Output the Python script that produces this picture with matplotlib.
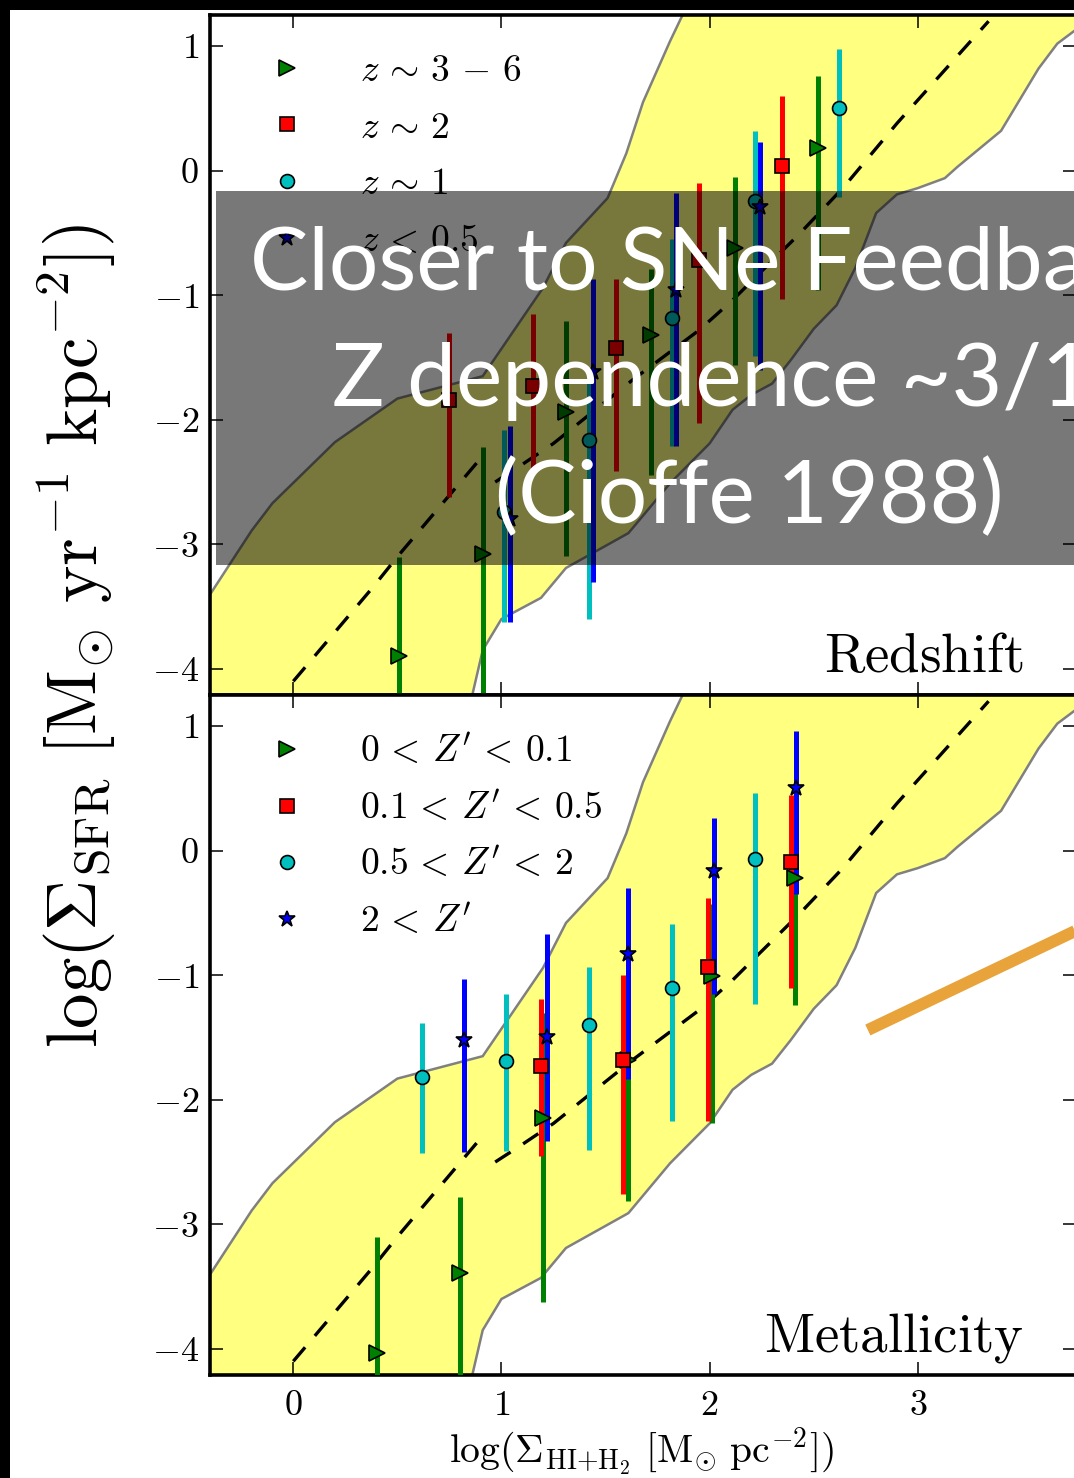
import matplotlib
matplotlib.use('Agg')
import matplotlib.pyplot as plt
from matplotlib.patches import Rectangle

plt.rcParams['mathtext.fontset'] = 'cm'
plt.rcParams['font.family'] = 'serif'
plt.rcParams['font.serif'] = ['cmr10']
plt.rcParams['axes.formatter.use_mathtext'] = True

# ---- redshift bins (top panel): x, y, upper and lower end of the bars
z36_x = [0.51, 0.91, 1.31, 1.72, 2.12, 2.52]
z36_y = [-3.90, -3.08, -1.94, -1.32, -0.62, 0.18]
z36_hi = [-3.10, -2.22, -1.21, -0.79, -0.05, 0.76]
z36_lo = [-5.00, -5.00, -3.09, -2.44, -1.56, -0.96]

z2_x = [0.75, 1.15, 1.55, 1.95, 2.35]
z2_y = [-1.84, -1.73, -1.42, -0.72, 0.04]
z2_hi = [-1.30, -1.15, -0.87, -0.10, 0.60]
z2_lo = [-2.62, -2.41, -2.41, -2.03, -1.03]

z1_x = [1.01, 1.42, 1.82, 2.22, 2.62]
z1_y = [-2.74, -2.16, -1.18, -0.24, 0.50]
z1_hi = [-2.08, -1.65, -0.55, 0.32, 0.98]
z1_lo = [-3.62, -3.60, -2.21, -1.49, -0.21]

z05_x = [1.04, 1.44, 1.84, 2.24]
z05_y = [-2.80, -1.62, -0.96, -0.29]
z05_hi = [-2.05, -0.87, -0.18, 0.23]
z05_lo = [-3.62, -3.30, -2.21, -1.60]

# ---- metallicity bins (bottom panel)
m01_x = [0.40, 0.80, 1.20, 1.61, 2.01, 2.41]
m01_y = [-4.03, -3.39, -2.15, -1.68, -1.01, -0.22]
m01_hi = [-3.10, -2.78, -1.30, -1.08, -0.43, 0.22]
m01_lo = [-5.00, -5.00, -3.62, -2.81, -2.19, -1.24]

m05_x = [1.19, 1.585, 1.99, 2.39]
m05_y = [-1.73, -1.68, -0.93, -0.09]
m05_hi = [-1.19, -1.00, -0.38, 0.45]
m05_lo = [-2.45, -2.76, -2.17, -1.10]

m2_x = [0.62, 1.02, 1.42, 1.82, 2.22]
m2_y = [-1.82, -1.69, -1.40, -1.10, -0.07]
m2_hi = [-1.38, -1.15, -0.93, -0.59, 0.46]
m2_lo = [-2.43, -2.41, -2.40, -2.17, -1.23]

mhi_x = [0.82, 1.22, 1.61, 2.02, 2.415]
mhi_y = [-1.52, -1.50, -0.83, -0.16, 0.50]
mhi_hi = [-1.03, -0.67, -0.30, 0.26, 0.96]
mhi_lo = [-2.42, -2.33, -1.83, -1.15, -0.35]

# ---- scatter band of the local sample
band_up_x = [-0.5, -0.20, -0.10, 0.20, 0.50, 0.91, 1.20, 1.31, 1.51, 1.60, 1.68, 1.81, 1.87, 1.95]
band_up_y = [-3.66, -2.89, -2.67, -2.18, -1.83, -1.65, -0.94, -0.58, -0.22, 0.14, 0.55, 1.04, 1.25, 1.60]
band_lo_x = [0.82, 0.86, 0.91, 1.00, 1.19, 1.31, 1.61, 1.81, 2.00, 2.11, 2.20, 2.30, 2.39,
             2.50, 2.61, 2.70, 2.80, 2.90, 3.00, 3.13, 3.19, 3.40, 3.58, 3.67, 3.75, 3.85, 4.0]
band_lo_y = [-4.50, -4.21, -3.85, -3.60, -3.43, -3.19, -2.91, -2.51, -2.19, -1.92, -1.80, -1.71, -1.52,
             -1.27, -1.08, -0.78, -0.34, -0.19, -0.14, -0.06, 0.03, 0.32, 0.82, 1.02, 1.12, 1.25, 1.40]

# ---- model curve (dashed), two branches
model_x1 = [0.0, 0.385, 0.50, 0.92]
model_y1 = [-4.10, -3.34, -3.10, -2.27]
model_x2 = [0.97, 1.09, 1.25, 1.63, 1.95, 2.11, 2.23, 2.43, 2.64, 2.90, 3.34]
model_y2 = [-2.50, -2.37, -2.19, -1.68, -1.28, -1.04, -0.84, -0.51, -0.14, 0.38, 1.20]

# ---- slope annotation
slope_x = [2.76, 3.90]
slope_y = [-1.44, -0.53]

W, H = 1074, 1478
fig = plt.figure(figsize=(W / 100, H / 100), dpi=100)
ax_top = fig.add_axes([210 / W, 1 - 695 / H, 866 / W, 680 / H])
ax_bot = fig.add_axes([210 / W, 1 - 1375 / H, 866 / W, 680 / H], sharex=ax_top)

band_x = band_up_x + [4.2, 4.2] + band_lo_x[::-1] + [-0.5]
band_y = band_up_y + [1.6, 1.4] + band_lo_y[::-1] + [-4.5]

top_sets = [
    (z36_x, z36_y, z36_hi, z36_lo, 'g', '>', r'$z\,\sim\,3\,-\,6$'),
    (z2_x, z2_y, z2_hi, z2_lo, 'r', 's', r'$z\,\sim\,2$'),
    (z1_x, z1_y, z1_hi, z1_lo, 'c', 'o', r'$z\,\sim\,1$'),
    (z05_x, z05_y, z05_hi, z05_lo, 'b', '*', r'$z\,<\,0.5$'),
]
bot_sets = [
    (m01_x, m01_y, m01_hi, m01_lo, 'g', '>', r"$0\,<\,Z'\,<\,0.1$"),
    (m05_x, m05_y, m05_hi, m05_lo, 'r', 's', r"$0.1\,<\,Z'\,<\,0.5$"),
    (m2_x, m2_y, m2_hi, m2_lo, 'c', 'o', r"$0.5\,<\,Z'\,<\,2$"),
    (mhi_x, mhi_y, mhi_hi, mhi_lo, 'b', '*', r"$2\,<\,Z'$"),
]
msize = {'>': 11, 's': 9.5, 'o': 10, '*': 12}

for ax, sets, tag, spacing in [(ax_top, top_sets, 'Redshift', 0.63),
                               (ax_bot, bot_sets, 'Metallicity', 0.57)]:
    ax.fill(band_x, band_y, facecolor='#ffff80', edgecolor='0.5', lw=1.8, zorder=1)
    ax.plot(model_x1, model_y1, color='k', ls='--', dashes=(5.5, 4.5), lw=2.4, zorder=2)
    ax.plot(model_x2, model_y2, color='k', ls='--', dashes=(5.5, 4.5), lw=2.4, zorder=2)

    for x, y, hi, lo, c, m, lab in sets:
        ax.vlines(x, lo, hi, colors=c, lw=3.6, zorder=3)
    handles = []
    for x, y, hi, lo, c, m, lab in sets:
        h, = ax.plot(x, y, ls='none', marker=m, ms=msize[m], mfc=c, mec='k', mew=1.2,
                     label=lab, zorder=4)
        handles.append(h)

    ax.legend(handles=handles, loc='upper left', frameon=False, fontsize=27, numpoints=1,
              handlelength=2.0, handletextpad=0.95, borderaxespad=0.55, borderpad=0.5,
              labelspacing=spacing)
    ax.text(0.939, 0.034, r'$\mathrm{%s}$' % tag, transform=ax.transAxes, ha='right',
            va='baseline', fontsize=39.5)

    ax.set_xlim(-0.4, 3.76)
    ax.set_ylim(-4.21, 1.25)
    ax.set_xticks([0, 1, 2, 3])
    ax.set_yticks([-4, -3, -2, -1, 0, 1])
    ax.tick_params(direction='in', length=9.5, width=1.1, top=True, right=True,
                   labelsize=26, pad=8)
    ax.tick_params(axis='x', pad=11)
    for s in ax.spines.values():
        s.set_linewidth(2.6)

ax_top.tick_params(labelbottom=False)
ax_bot.plot(slope_x, slope_y, color='#e8a33a', lw=8.6, solid_capstyle='butt', zorder=6)

fig.text(76 / W, 1 - 636 / H,
         r'$\log(\Sigma_{\rm SFR}\ [{\rm M_{\odot}\ yr^{-1}\ kpc^{-2}}])$',
         rotation=90, ha='center', va='center', fontsize=51)
fig.text(641 / W, 1 - 1452 / H,
         r'$\log(\Sigma_{\rm HI{+}H_2}\ [{\rm M_{\odot}\ pc^{-2}}])$',
         ha='center', va='center', fontsize=28.5)

# grey banner with the talk note
fig.add_artist(Rectangle((216 / W, 1 - 565 / H), 1.0, (565 - 191) / H,
                         transform=fig.transFigure, facecolor='k', alpha=0.53,
                         edgecolor='none', zorder=10))
for px, py, line in [(250, 290, 'Closer to SNe Feedback'),
                     (332, 406, 'Z dependence ~3/14'),
                     (495, 523, '(Cioffe 1988)')]:
    fig.text(px / W, 1 - py / H, line, color='w', fontsize=63, family='Lato',
             fontweight='normal', ha='left', va='baseline', zorder=11)

# black frame edges
fig.add_artist(Rectangle((0, 0), 10 / W, 1, transform=fig.transFigure,
                         facecolor='k', edgecolor='none', zorder=20))
fig.add_artist(Rectangle((0, 1 - 10 / H), 1, 10 / H, transform=fig.transFigure,
                         facecolor='k', edgecolor='none', zorder=20))

fig.savefig('out.png', dpi=100)
